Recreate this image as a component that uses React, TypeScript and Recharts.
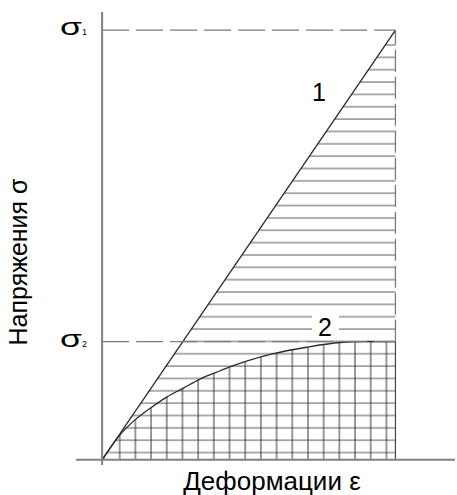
import { ComposedChart, Area, XAxis, YAxis, ReferenceLine, ReferenceDot } from "recharts";

// strain (x) and stress (y) in relative units, sigma1 = 100
const EPS_LINE1 = [0, 100];
const SIG_LINE1 = [0, 100];

const EPS_CURVE2 = [0, 3, 6.1, 11.2, 16.4, 22.0, 27.7, 33.4, 39.1, 44.7, 49.8, 58.4, 69.7, 81.1, 89.0, 100];
const SIG_CURVE2 = [0, 3, 5.8, 9.3, 12.0, 14.6, 16.7, 18.8, 20.4, 21.9, 23.1, 24.7, 26.2, 27.3, 27.5, 27.5];

const SIGMA_SUBS = ["1", "2"];
const SIGMA_VALUES = [100, 27.5];
const EPS_MAX = 100;

const CURVE_NAMES = ["1", "2"];

const line1 = EPS_LINE1.map((x, i) => ({ x, y: SIG_LINE1[i] }));
const curve2 = EPS_CURVE2.map((x, i) => ({ x, y: SIG_CURVE2[i] }));

const W = 457;
const H = 495;
const X_DOMAIN: [number, number] = [-8.9, 120.3];
const Y_DOMAIN: [number, number] = [-1.2, 104.2];
const FONT = "'Liberation Sans', Arial, sans-serif";
const AXIS_COLOR = "#808080";
const DASH_COLOR = "#7a7a7a";

function SigmaLabel(props: any) {
  const { cx, cy, sub } = props;
  return (
    <g>
      <text
        x={cx - 42}
        y={cy + 5}
        textLength={22}
        lengthAdjust="spacingAndGlyphs"
        style={{ fontFamily: FONT, fontSize: 23, fontWeight: 400, fill: "#000" }}
      >
        σ
      </text>
      <text x={cx - 20} y={cy + 5} style={{ fontFamily: FONT, fontSize: 9, fill: "#000" }}>
        {sub}
      </text>
    </g>
  );
}

function CurveLabel(props: any) {
  const { cx, cy, text, boxed } = props;
  return (
    <g>
      {boxed && <rect x={cx - 13} y={cy - 13} width={27} height={24} fill="#fff" />}
      <text
        x={cx}
        y={cy}
        textAnchor="middle"
        dominantBaseline="central"
        style={{ fontFamily: FONT, fontSize: 25, fill: "#000" }}
      >
        {text}
      </text>
    </g>
  );
}

export default function App() {
  return (
    <div style={{ position: "absolute", left: 0, top: 0, width: W, height: H, background: "#fff", fontFamily: FONT }}>
      <ComposedChart width={W} height={H} margin={{ top: 12, right: 2, bottom: 30, left: 76 }}>
        <defs>
          <pattern id="hatchH" patternUnits="userSpaceOnUse" x={0} y={44} width={10} height={12.35}>
            <line x1={0} y1={1} x2={10} y2={1} stroke="#5a5a5a" strokeWidth={1} />
          </pattern>
          <pattern id="hatchV" patternUnits="userSpaceOnUse" x={103} y={0} width={15.69} height={10}>
            <line x1={1} y1={0} x2={1} y2={10} stroke="#333" strokeWidth={1} />
          </pattern>
        </defs>
        <XAxis type="number" dataKey="x" domain={X_DOMAIN} hide allowDataOverflow />
        <YAxis type="number" dataKey="y" domain={Y_DOMAIN} hide allowDataOverflow />

        <Area
          data={line1}
          dataKey="y"
          type="linear"
          baseValue={0}
          stroke="#2a2a2a"
          strokeWidth={1.3}
          fill="url(#hatchH)"
          fillOpacity={1}
          isAnimationActive={false}
          dot={false}
          activeDot={false}
        />
        <Area
          data={curve2}
          dataKey="y"
          type="monotone"
          baseValue={0}
          stroke="#2a2a2a"
          strokeWidth={1.3}
          fill="url(#hatchV)"
          fillOpacity={1}
          isAnimationActive={false}
          dot={false}
          activeDot={false}
        />

        {SIGMA_VALUES.map((v) => (
          <ReferenceLine
            key={"s" + v}
            segment={[{ x: 0, y: v }, { x: EPS_MAX, y: v }]}
            stroke={DASH_COLOR}
            strokeWidth={1.3}
            strokeDasharray="27 7"
            ifOverflow="visible"
          />
        ))}
        <ReferenceLine
          segment={[{ x: EPS_MAX, y: SIGMA_VALUES[1] }, { x: EPS_MAX, y: SIGMA_VALUES[0] }]}
          stroke={DASH_COLOR}
          strokeWidth={1.3}
          strokeDasharray="22 5"
          ifOverflow="visible"
        />
        <ReferenceLine
          segment={[{ x: EPS_MAX, y: 0 }, { x: EPS_MAX, y: SIGMA_VALUES[1] }]}
          stroke="#444"
          strokeWidth={1.2}
          ifOverflow="visible"
        />

        <ReferenceLine
          segment={[{ x: X_DOMAIN[0], y: 0 }, { x: X_DOMAIN[1], y: 0 }]}
          stroke={AXIS_COLOR}
          strokeWidth={2}
          ifOverflow="visible"
        />
        <ReferenceLine
          segment={[{ x: 0, y: Y_DOMAIN[0] }, { x: 0, y: Y_DOMAIN[1] }]}
          stroke={AXIS_COLOR}
          strokeWidth={2}
          ifOverflow="visible"
        />

        {SIGMA_VALUES.map((v, i) => (
          <ReferenceDot
            key={"l" + v}
            x={0}
            y={v}
            r={0}
            ifOverflow="visible"
            shape={(p: any) => <SigmaLabel {...p} sub={SIGMA_SUBS[i]} />}
          />
        ))}
        <ReferenceDot
          x={73.9}
          y={85.5}
          r={0}
          ifOverflow="visible"
          shape={(p: any) => <CurveLabel {...p} text={CURVE_NAMES[0]} />}
        />
        <ReferenceDot
          x={76}
          y={31}
          r={0}
          ifOverflow="visible"
          shape={(p: any) => <CurveLabel {...p} text={CURVE_NAMES[1]} boxed />}
        />
      </ComposedChart>

      <div
        style={{
          position: "absolute",
          left: 272,
          top: 481,
          transform: "translate(-50%, -50%)",
          fontSize: 26,
          whiteSpace: "nowrap",
          color: "#000",
        }}
      >
        Деформации ε
      </div>
      <div
        style={{
          position: "absolute",
          left: 18,
          top: 262,
          transform: "translate(-50%, -50%) rotate(-90deg)",
          fontSize: 25,
          whiteSpace: "nowrap",
          color: "#000",
        }}
      >
        Напряжения σ
      </div>
    </div>
  );
}
